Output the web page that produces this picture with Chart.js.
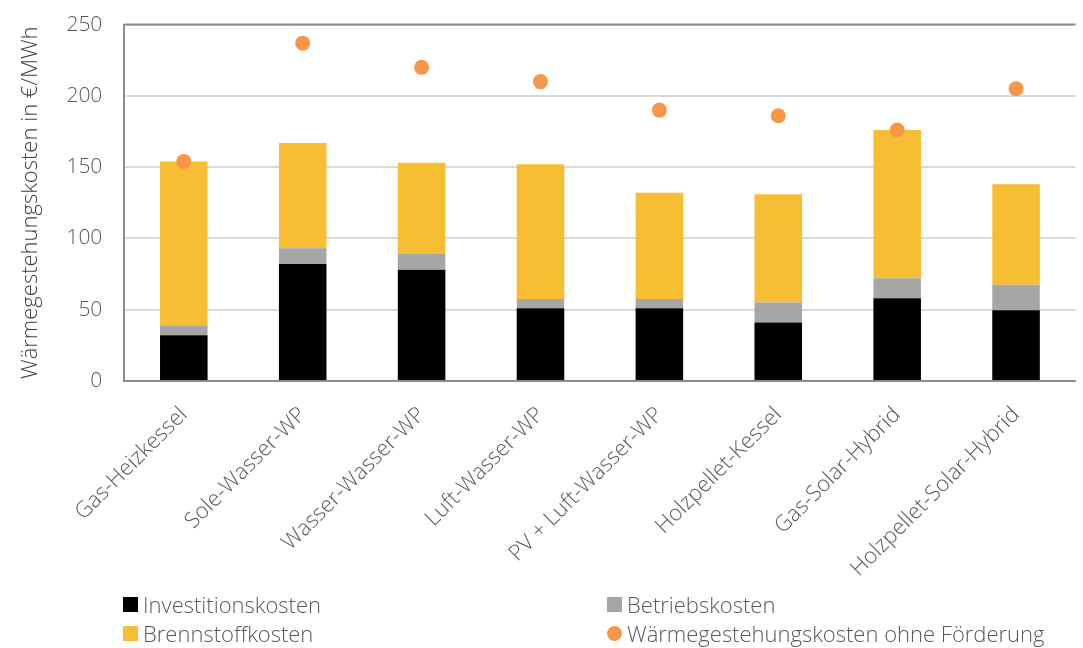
<!DOCTYPE html>
<html>
<head>
<meta charset="utf-8">
<script src="https://cdn.jsdelivr.net/npm/chart.js@4.4.1/dist/chart.umd.min.js"></script>
<style>
  html, body { margin: 0; padding: 0; background: #fff; }
  body { width: 1083px; height: 648px; position: relative; overflow: hidden; font-family: 'Open Sans', sans-serif; }
  #wrap { position: absolute; left: 0; top: -10px; width: 1083px; height: 613px; }
  #legend { position: absolute; left: 123px; top: 593px; width: 960px; display: grid;
    grid-template-columns: 484px 476px; row-gap: 7px; font-weight: 300; font-size: 22px; color: #595959; }
  .item { display: flex; align-items: center; height: 22px; white-space: nowrap; }
  .box { width: 15px; height: 15px; margin-right: 5px; flex: none; }
  .dot { width: 15px; height: 15px; border-radius: 50%; margin-right: 5px; flex: none; }
</style>
</head>
<body>
<div id="wrap"><canvas id="chart"></canvas></div>
<div id="legend"></div>
<script>
// Daten
const kategorien = ['Gas-Heizkessel', 'Sole-Wasser-WP', 'Wasser-Wasser-WP', 'Luft-Wasser-WP',
  'PV + Luft-Wasser-WP', 'Holzpellet-Kessel', 'Gas-Solar-Hybrid', 'Holzpellet-Solar-Hybrid'];
const investitionskosten = [32, 82, 78, 51, 51, 41, 58, 49.5];
const betriebskosten = [7, 11, 11, 6.5, 6.5, 14, 14, 18];
const brennstoffkosten = [115, 74, 64, 94.5, 74.5, 76, 104, 70.5];
const ohneFoerderung = [154, 237, 220, 210, 190, 186, 176, 205];
const yTicks = [0, 50, 100, 150, 200, 250];

const fam = "'Open Sans', sans-serif";
const ctx = document.getElementById('chart');

const chart = new Chart(ctx, {
  data: {
    labels: kategorien,
    datasets: [
      { type: 'bar', label: 'Investitionskosten', data: investitionskosten, backgroundColor: '#000000', stack: 'k', order: 2 },
      { type: 'bar', label: 'Betriebskosten', data: betriebskosten, backgroundColor: '#a6a6a6', stack: 'k', order: 2 },
      { type: 'bar', label: 'Brennstoffkosten', data: brennstoffkosten, backgroundColor: '#f7be33', stack: 'k', order: 2 },
      { type: 'line', label: 'Wärmegestehungskosten ohne Förderung', data: ohneFoerderung, showLine: false,
        pointRadius: 7.5, pointHoverRadius: 7.5, pointBackgroundColor: '#f79646', pointBorderWidth: 0,
        borderColor: '#f79646', backgroundColor: '#f79646', stack: 'p', order: 0 }
    ]
  },
  options: {
    responsive: true,
    maintainAspectRatio: false,
    animation: false,
    layout: { padding: { left: 18, right: 0, top: 4, bottom: 0 } },
    datasets: { bar: { barPercentage: 0.4, categoryPercentage: 1 } },
    plugins: {
      legend: { display: false },
      tooltip: { enabled: false }
    },
    scales: {
      x: {
        stacked: true,
        grid: { display: false, drawTicks: false },
        border: { color: '#8c8c8c', width: 2 },
        ticks: { minRotation: 45, maxRotation: 45, padding: 21, color: '#595959',
          font: { family: fam, size: 22, weight: 300 } }
      },
      y: {
        stacked: true,
        min: 0, max: 250,
        afterBuildTicks: (axis) => { axis.ticks = yTicks.map(v => ({ value: v })); },
        grid: { color: '#d9d9d9', lineWidth: 2, drawTicks: false },
        border: { color: '#8c8c8c', width: 2 },
        ticks: { padding: 22, color: '#595959', font: { family: fam, size: 21, weight: 300 } },
        title: { display: true, text: 'Wärmegestehungskosten in €/MWh', color: '#404040',
          padding: { top: 0, bottom: 0 }, font: { family: fam, size: 22, weight: 300 } }
      }
    }
  },
  plugins: [{
    id: 'topRand',
    afterDraw(c) {
      const a = c.chartArea, g = c.ctx;
      g.save();
      g.strokeStyle = '#8c8c8c';
      g.lineWidth = 2;
      g.beginPath();
      g.moveTo(a.left, a.top);
      g.lineTo(a.right, a.top);
      g.stroke();
      g.restore();
    }
  }]
});

// HTML-Legende
const legend = document.getElementById('legend');
chart.data.datasets.forEach(ds => {
  const el = document.createElement('div');
  el.className = 'item';
  const m = document.createElement('span');
  m.className = ds.type === 'line' ? 'dot' : 'box';
  m.style.background = ds.type === 'line' ? ds.pointBackgroundColor : ds.backgroundColor;
  el.appendChild(m);
  el.appendChild(document.createTextNode(ds.label));
  legend.appendChild(el);
});
</script>
</body>
</html>
